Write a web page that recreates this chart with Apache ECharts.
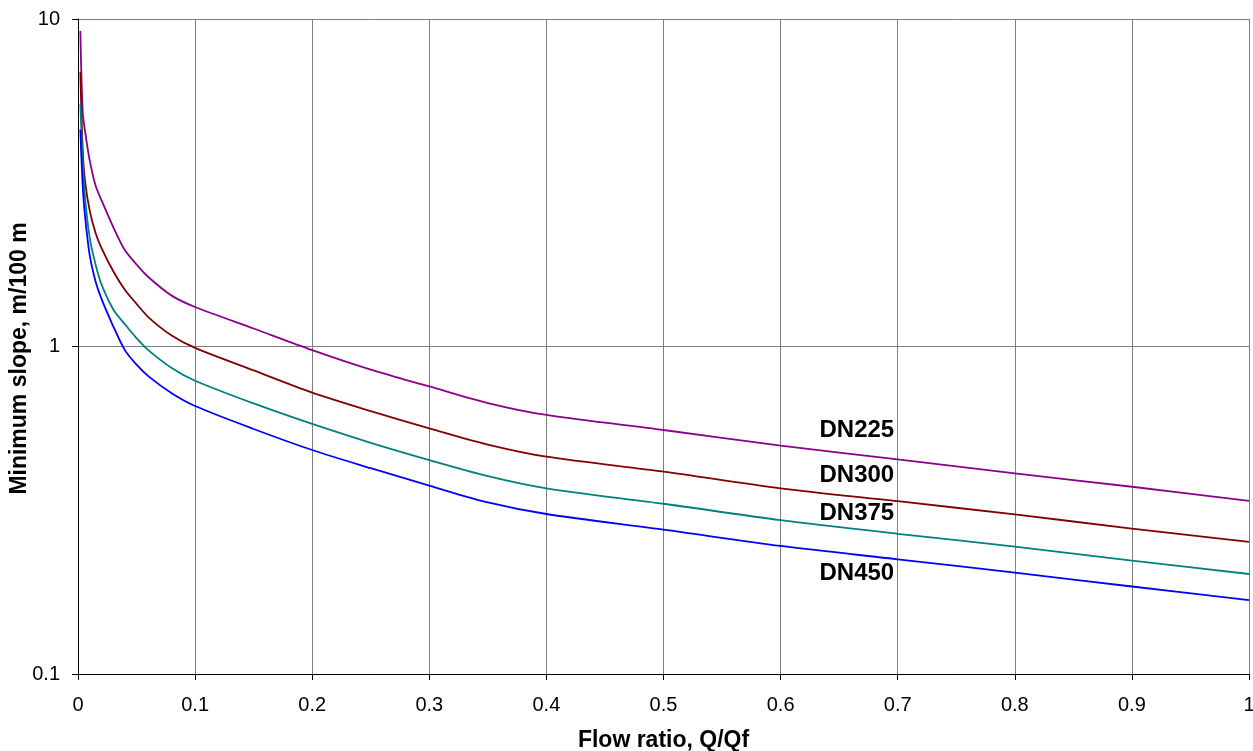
<!DOCTYPE html>
<html>
<head>
<meta charset="utf-8">
<script src="https://cdn.jsdelivr.net/npm/echarts@6/dist/echarts.min.js"></script>
<style>
html,body{margin:0;padding:0;background:#fff;}
#chart{width:1253px;height:751px;}
</style>
</head>
<body>
<div id="chart"></div>
<script>
// ---- data ----
const flowRatio = [0.002, 0.004, 0.006, 0.01, 0.015, 0.02, 0.03, 0.04, 0.05, 0.06, 0.08, 0.1,
                   0.15, 0.2, 0.25, 0.3, 0.35, 0.4, 0.5, 0.6, 0.7, 0.8, 0.9, 1.0];
const dn225 = [9.2, 5.2, 4.55, 3.7, 3.1, 2.8, 2.32, 1.97, 1.78, 1.63, 1.43, 1.32,
               1.135, 0.975, 0.85, 0.755, 0.672, 0.618, 0.556, 0.498, 0.452, 0.41, 0.373, 0.338];
const dn300 = [6.9, 4.0, 3.2, 2.6, 2.22, 2.0, 1.7, 1.49, 1.35, 1.23, 1.08, 0.99,
               0.845, 0.723, 0.635, 0.5625, 0.502, 0.461, 0.415, 0.369, 0.337, 0.307, 0.278, 0.253];
const dn375 = [5.5, 3.7, 2.85, 2.15, 1.78, 1.55, 1.3, 1.17, 1.06, 0.975, 0.86, 0.786,
               0.67, 0.58, 0.508, 0.45, 0.402, 0.369, 0.331, 0.295, 0.268, 0.245, 0.222, 0.202];
const dn450 = [4.6, 3.1, 2.5, 1.9, 1.58, 1.4, 1.155, 0.975, 0.88, 0.812, 0.72, 0.658,
               0.56, 0.483, 0.425, 0.376, 0.334, 0.308, 0.276, 0.246, 0.224, 0.204, 0.185, 0.168];
const seriesNames = ['DN225', 'DN300', 'DN375', 'DN450'];
const xTickValues = [0, 0.1, 0.2, 0.3, 0.4, 0.5, 0.6, 0.7, 0.8, 0.9, 1];
const yTickValues = [0.1, 1, 10];
const xTitle = 'Flow ratio, Q/Qf';
const yTitle = 'Minimum slope, m/100 m';

// ---- annotation anchors (data coordinates of label right edges) ----
const labelAnchorX = 0.697;
const labelAnchorY = [0.556, 0.405, 0.31, 0.2035];

const colors = ['#8B008B', '#800000', '#008080', '#0000FF'];
const allSeries = [dn225, dn300, dn375, dn450];

const chart = echarts.init(document.getElementById('chart'), null, {renderer: 'canvas'});
const font = '"Liberation Sans", Arial, Helvetica, sans-serif';

const series = allSeries.map((vals, i) => ({
  name: seriesNames[i],
  type: 'line',
  data: flowRatio.map((x, j) => [x, vals[j]]),
  symbol: 'none',
  smooth: 0.3,
  lineStyle: {color: colors[i], width: 1.8},
  itemStyle: {color: colors[i]},
  z: 5,
  markPoint: {
    symbol: 'circle',
    symbolSize: 0,
    silent: true,
    data: [{coord: [labelAnchorX, labelAnchorY[i]], value: seriesNames[i]}],
    label: {
      show: true,
      position: 'left',
      distance: 0,
      formatter: seriesNames[i],
      color: '#000',
      fontFamily: font,
      fontWeight: 'bold',
      fontSize: 24
    }
  }
}));

chart.setOption({
  animation: false,
  backgroundColor: '#fff',
  grid: {left: 78, right: 4, top: 19, bottom: 77, containLabel: false, outerBoundsMode: 'none'},
  xAxis: {
    type: 'value',
    min: 0, max: 1, interval: 0.1,
    name: xTitle,
    nameLocation: 'middle',
    nameGap: 55,
    nameMoveOverlap: false,
    nameTextStyle: {fontFamily: font, fontWeight: 'bold', fontSize: 23, color: '#000'},
    axisLine: {show: true, onZero: false, lineStyle: {color: '#000', width: 1}},
    axisTick: {show: true, inside: false, length: 6, lineStyle: {color: '#000'}},
    axisLabel: {
      margin: 21, fontFamily: font, fontSize: 20, color: '#000',
      formatter: v => {
        const m = xTickValues.find(t => Math.abs(t - v) < 1e-9);
        return m === undefined ? '' : String(m);
      }
    },
    splitLine: {show: true, lineStyle: {color: '#808080', width: 1}}
  },
  yAxis: {
    type: 'log',
    logBase: 10,
    min: 0.1, max: 10,
    name: yTitle,
    nameLocation: 'middle',
    nameGap: 47,
    nameMoveOverlap: false,
    nameRotate: 90,
    nameTextStyle: {fontFamily: font, fontWeight: 'bold', fontSize: 23, color: '#000', padding: [0, 24, 0, 0]},
    axisLine: {show: true, lineStyle: {color: '#000', width: 1}},
    axisTick: {show: true, inside: false, length: 6, lineStyle: {color: '#000'}},
    minorTick: {show: false},
    axisLabel: {
      margin: 18, fontFamily: font, fontSize: 20, color: '#000',
      formatter: v => {
        const m = yTickValues.find(t => Math.abs(t - v) / t < 1e-6);
        return m === undefined ? '' : String(m);
      }
    },
    splitLine: {show: true, lineStyle: {color: '#808080', width: 1}}
  },
  series: series
});
</script>
</body>
</html>
